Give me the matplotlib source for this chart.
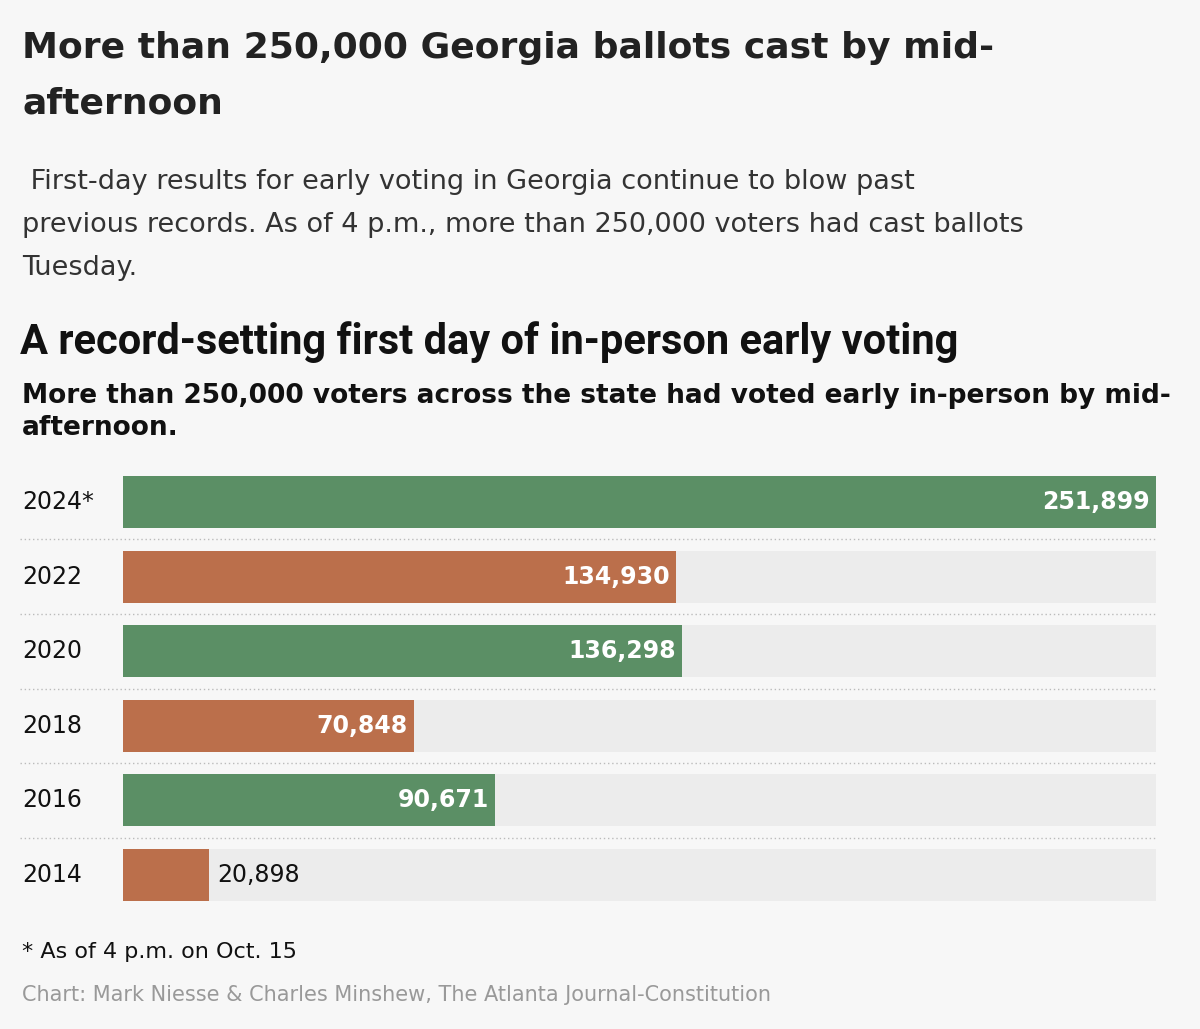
import matplotlib
matplotlib.use("Agg")
import matplotlib.pyplot as plt

years = ["2024*", "2022", "2020", "2018", "2016", "2014"]
values = [251899, 134930, 136298, 70848, 90671, 20898]
colors = ["#5b8f65", "#bb6f4b", "#5b8f65", "#bb6f4b", "#5b8f65", "#bb6f4b"]
vmax = 251899

bg = "#f7f7f7"
fig = plt.figure(figsize=(12, 10.29), dpi=100, facecolor=bg)
F = "DejaVu Sans"

def T(x, y, s, **kw):
    fig.text(x / 1200, 1 - y / 1029, s, **kw)

T(22, 48, "More than 250,000 Georgia ballots cast by mid-", fontsize=26, fontweight="bold", family=F, color="#222222", va="center")
T(22, 103, "afternoon", fontsize=26, fontweight="bold", family=F, color="#222222", va="center")
for y, s in [(182, " First-day results for early voting in Georgia continue to blow past"),
             (225, "previous records. As of 4 p.m., more than 250,000 voters had cast ballots"),
             (268, "Tuesday.")]:
    T(22, y, s, fontsize=19.5, family=F, color="#333333", va="center")
T(20, 342, "A record-setting first day of in-person early voting", fontsize=30, fontweight="bold", family="Roboto", color="#111111", va="center")
T(22, 396, "More than 250,000 voters across the state had voted early in-person by mid-", fontsize=19, family=F, fontweight="semibold", color="#111111", va="center")
T(22, 428, "afternoon.", fontsize=19, family=F, fontweight="semibold", color="#111111", va="center")
T(22, 952, "* As of 4 p.m. on Oct. 15", fontsize=16, family=F, color="#111111", va="center")
T(22, 995, "Chart: Mark Niesse & Charles Minshew, The Atlanta Journal-Constitution", fontsize=15, family=F, color="#999999", va="center")

ax = fig.add_axes([123 / 1200, 1 - 901 / 1029, (1156 - 123) / 1200, 425 / 1029])
ax.set_facecolor(bg)
n = len(years)
ys = list(range(n))
ax.barh(ys, [vmax] * n, height=0.7, color="#ececec", zorder=1)
ax.barh(ys, values, height=0.7, color=colors, zorder=2)
ax.set_xlim(0, vmax)
ax.set_ylim(n - 1 + 0.35, -0.35)
for i, (v, y) in enumerate(zip(values, ys)):
    lab = f"{v:,}"
    if v / vmax > 0.15:
        ax.text(v - vmax * 0.006, y, lab, ha="right", va="center", color="white", fontsize=17, fontweight="bold", family=F, zorder=3)
    else:
        ax.text(v + vmax * 0.008, y, lab, ha="left", va="center", color="#111111", fontsize=17, family=F, zorder=3)
    ax.text(-0.098 * vmax * (1200 / 1033) * 0.86, y, years[i], ha="left", va="center", color="#111111", fontsize=17, family=F, clip_on=False)
for i in range(n - 1):
    ax.plot([-0.1 * vmax, vmax], [i + 0.5, i + 0.5], ls=(0, (1, 2)), color="#bbbbbb", lw=1, clip_on=False)
for s in ax.spines.values():
    s.set_visible(False)
ax.set_xticks([])
ax.set_yticks([])

fig.savefig("out.png", dpi=100, facecolor=bg)
